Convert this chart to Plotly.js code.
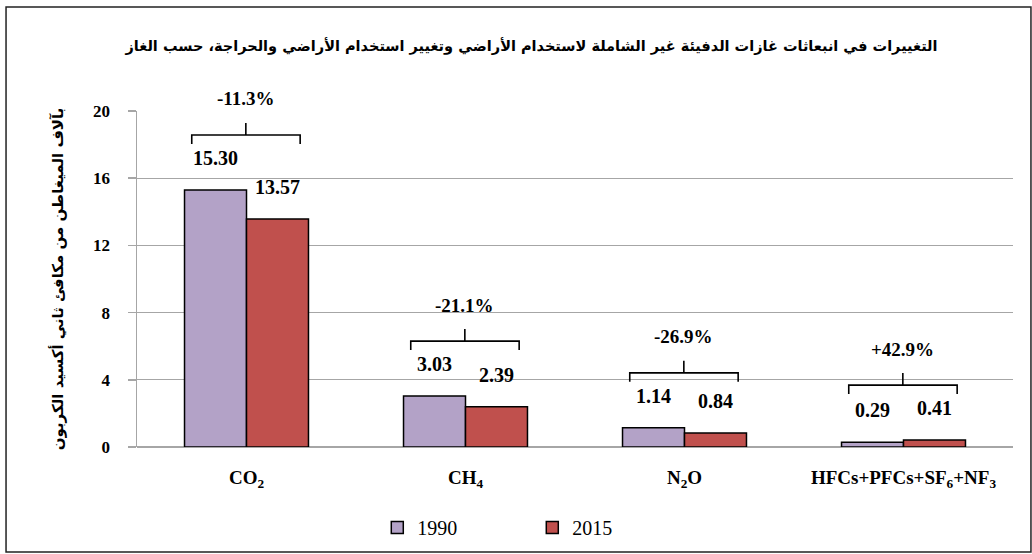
<!DOCTYPE html>
<html><head><meta charset="utf-8">
<script src="https://cdn.plot.ly/plotly-3.0.1.min.js"></script>
<style>body{margin:0;background:#fff}#chart{width:1032px;height:554px}</style>
</head><body><div id="chart"></div>
<script>
const categories = ['CO<sub>2</sub>', 'CH<sub>4</sub>', 'N<sub>2</sub>O', 'HFCs+PFCs+SF<sub>6</sub>+NF<sub>3</sub>'];
const values1990 = [15.30, 3.03, 1.14, 0.29];
const values2015 = [13.57, 2.39, 0.84, 0.41];
const changeLabels = ['-11.3%', '-21.1%', '-26.9%', '+42.9%'];
const yTicks = [0, 4, 8, 12, 16, 20];
const seriesNames = ['1990', '2015'];

const serif = 'Liberation Serif, Times New Roman, DejaVu Serif, serif';
const arabic = 'DejaVu Sans, Noto Sans, sans-serif';
const c1990 = '#b3a2c7', c2015 = '#c0504d';
const barHalf = 0.1415; // half of bar width in category units

const traces = [
  {type:'bar', name:seriesNames[0], x:[0,1,2,3], y:values1990, marker:{color:c1990, line:{color:'#000', width:1.5}}, hoverinfo:'y'},
  {type:'bar', name:seriesNames[1], x:[0,1,2,3], y:values2015, marker:{color:c2015, line:{color:'#000', width:1.5}}, hoverinfo:'y'}
];

const annotations = [];
const shapes = [];
categories.forEach((c, i) => {
  const v1 = values1990[i], v2 = values2015[i];
  annotations.push({x:i-barHalf, y:v1, xref:'x', yref:'y', text:'<b>'+v1.toFixed(2)+'</b>', showarrow:false, yshift:32, font:{family:serif, size:20, color:'#000'}});
  annotations.push({x:i+barHalf, y:v2, xref:'x', yref:'y', text:'<b>'+v2.toFixed(2)+'</b>', showarrow:false, yshift:32, font:{family:serif, size:20, color:'#000'}});
  const top = Math.max(v1, v2);
  // bracket
  shapes.push({type:'path', xref:'x', yref:'y', ysizemode:'pixel', yanchor:top,
    path:`M ${i-0.25},46 L ${i-0.25},55 L ${i+0.245},55 L ${i+0.245},46 M ${i-0.003},55 L ${i-0.003},67`,
    line:{color:'#000', width:1.6}});
  annotations.push({x:i-0.003, y:top, xref:'x', yref:'y', text:'<b>'+changeLabels[i]+'</b>', showarrow:false, yshift:91, font:{family:serif, size:19, color:'#000'}});
});

// outer frame
shapes.push({type:'rect', xref:'paper', yref:'paper', x0:-0.1495, x1:1.0205, y0:-0.3125, y1:1.3095, line:{color:'#222', width:1.5}, layer:'below'});

const layout = {
  width:1032, height:554,
  margin:{l:137, r:19, t:111, b:107},
  paper_bgcolor:'#fff', plot_bgcolor:'#fff',
  barmode:'group', bargap:0.434, bargroupgap:0,
  title:{text:'<b>التغييرات في انبعاثات غازات الدفيئة غير الشاملة لاستخدام الأراضي وتغيير استخدام الأراضي والحراجة، حسب الغاز</b>', x:0.515, xanchor:'center', y:0.918, yanchor:'middle', font:{family:arabic, size:14.5, color:'#000'}},
  xaxis:{type:'linear', range:[-0.5,3.5], tickvals:[0,1,2,3], ticktext:categories.map(s => '<b>'+s+'</b>'), showgrid:false, zeroline:false, showline:false, ticks:'', tickfont:{family:serif, size:19, color:'#000'}, ticklabelstandoff:17, fixedrange:true},
  yaxis:{range:[0,20], tickvals:yTicks, ticktext:yTicks.map(v => '<b>'+v+'</b>'), showgrid:true, gridcolor:'#a6a6a6', gridwidth:1.2, zeroline:true, zerolinecolor:'#a6a6a6', zerolinewidth:1.5, showline:true, linecolor:'#a6a6a6', linewidth:1.5, ticks:'outside', ticklen:8, tickcolor:'#a6a6a6', tickwidth:1.5,
    tickfont:{family:serif, size:17, color:'#000'}, ticklabelstandoff:14,
    title:{text:'<b>بآلاف الميغاطن من مكافئ ثاني أكسيد الكربون</b>', font:{family:arabic, size:15, color:'#000'}, standoff:26}},
  legend:{orientation:'h', x:0.2743, xanchor:'left', yref:'container', y:0.048, yanchor:'middle', bgcolor:'rgba(0,0,0,0)', font:{family:serif, size:20, color:'#000'}, itemwidth:30, entrywidth:110, entrywidthmode:'pixels', traceorder:'normal'},
  showlegend:true,
  annotations:annotations,
  shapes:shapes
};
Plotly.newPlot('chart', traces, layout, {displayModeBar:false, staticPlot:true});
</script></body></html>
